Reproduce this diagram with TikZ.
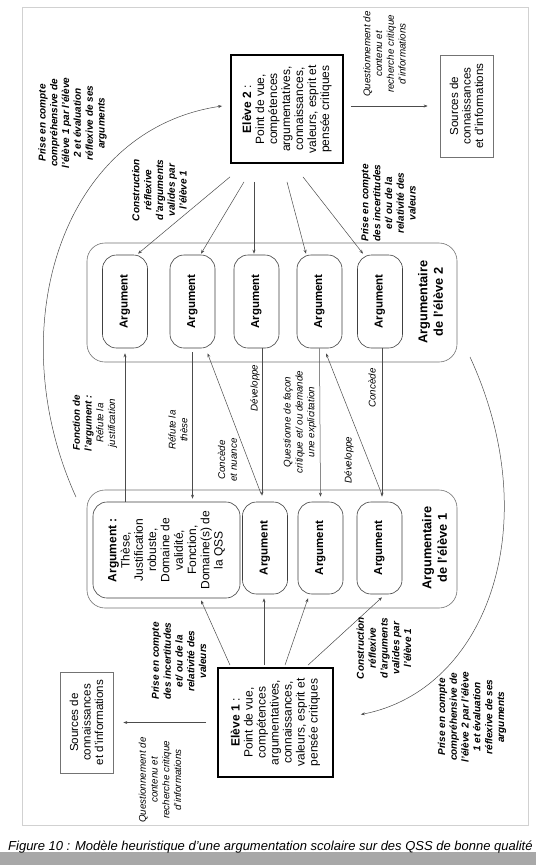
\documentclass[tikz,border=0pt]{standalone}
\usepackage{fontspec}
\setmainfont{Liberation Sans}
\usetikzlibrary{arrows.meta, calc}

\begin{document}
\begin{tikzpicture}[x=1pt, y=-1pt,
    eleve/.style={draw, line width=1.8pt, rotate=90, align=center, inner sep=2pt,
                  font=\fontsize{12}{13}\selectfont},
    argbox/.style={draw=black!75, line width=0.6pt, rounded corners=14pt, rotate=90,
                   minimum width=93pt, minimum height=45pt, inner sep=0pt,
                   font=\fontsize{11.5}{13}\selectfont\bfseries},
    bigbox/.style={argbox, align=center, font=\fontsize{12}{13.3}\selectfont},
    groupbox/.style={draw=black!55, line width=0.6pt, rounded corners=18pt},
    source/.style={draw=black!55, line width=0.7pt, rotate=90, align=center, inner sep=0pt,
                   font=\fontsize{11.6}{12.5}\selectfont},
    lbl/.style={rotate=90, align=center, inner sep=0pt,
                font=\fontsize{9.8}{11.8}\selectfont\itshape},
    blbl/.style={lbl, font=\fontsize{10}{11.8}\selectfont\bfseries\itshape},
    grouplbl/.style={rotate=90, align=center, inner sep=0pt,
                     font=\fontsize{12.8}{15.5}\selectfont\bfseries},
    arr/.style={-{Stealth[length=4pt, width=3pt]}, draw=black!70, line width=0.5pt}
  ]
    \useasboundingbox (0,0) rectangle (536,865);
    \clip (0,0) rectangle (536,865);
    \fill[white] (0,0) rectangle (536,865);
    \draw[black!18, line width=1pt] (22,7) rectangle (528,825);
    \fill[black!34] (0,852) rectangle (536,865);
    \node[anchor=base west, inner sep=0pt, font=\fontsize{13}{15}\selectfont\itshape] (caption)
      at (8,850) {Figure 10 : Modèle heuristique d'une argumentation scolaire sur des QSS de bonne qualité};

    \node[groupbox, minimum width=370pt, minimum height=119pt] (g2) at (272,302.5) {};
    \node[groupbox, minimum width=370pt, minimum height=118pt] (g1) at (272,549) {};

    \node[eleve, minimum width=108pt, minimum height=112pt] (e2) at (287,109)
      {\textbf{Elève 2} :\\Point de vue,\\compétences\\argumentatives,\\connaissances,\\valeurs, esprit et\\pensée critiques};
    \node[eleve, minimum width=109pt, minimum height=115pt] (e1) at (275.5,722.5)
      {\textbf{Elève 1} :\\Point de vue,\\compétences\\argumentatives,\\connaissances,\\valeurs, esprit et\\pensée critiques};
    \node[source, minimum width=102pt, minimum height=53pt] (s2) at (466.5,106)
      {Sources de\\connaissances\\et d'informations};
    \node[source, minimum width=101pt, minimum height=53pt] (s1) at (86.5,722.5)
      {Sources de\\connaissances\\et d'informations};

    \node[argbox] (e2arg1) at (125,301.5) {Argument};
    \node[argbox] (e2arg2) at (192.5,301.5) {Argument};
    \node[argbox] (e2arg3) at (256.5,301.5) {Argument};
    \node[argbox] (e2arg4) at (319.5,301.5) {Argument};
    \node[argbox] (e2arg5) at (380,301.5) {Argument};
    \node[grouplbl] (g2lbl) at (430.5,302) {Argumentaire\\de l'élève 2};

    \node[bigbox, minimum width=96pt, minimum height=147pt] (e1arg1) at (166.5,550)
      {\textbf{Argument :}\\Thèse,\\Justification\\robuste,\\Domaine de\\validité,\\Fonction,\\Domaine(s) de\\la QSS};
    \node[argbox, minimum width=92pt] (e1arg2) at (265,548) {Argument};
    \node[argbox, minimum width=92pt] (e1arg3) at (320.5,548) {Argument};
    \node[argbox, minimum width=92pt] (e1arg4) at (379.5,548) {Argument};
    \node[grouplbl] (g1lbl) at (434.5,548) {Argumentaire\\de l'élève 1};

    \draw[arr] ($(e2.west)+(-57,13)$) -- ($(e2arg1.east)+(13,-1)$);
    \draw[arr] ($(e2.west)+(-43,18)$) -- ($(e2arg2.east)+(8.5,-1)$);
    \draw[arr] ($(e2.west)+(-33,18)$) -- ($(e2arg3.east)+(-2.5,-1)$);
    \draw[arr] ($(e2.west)+(0,18)$) -- ($(e2arg4.east)+(-13.5,-1)$);
    \draw[arr] ($(e2.west)+(16,13)$) -- ($(e2arg5.east)+(-17,-1)$);

    \draw[arr] ($(e1.east)+(-45.5,-2)$) -- ($(e1arg1.west)+(34.5,2)$);
    \draw[arr] ($(e1.east)+(-11.5,-2)$) -- ($(e1arg2.west)+(-1,4)$);
    \draw[arr] ($(e1.east)+(9.5,-2)$) -- ($(e1arg3.west)+(-12.5,4)$);
    \draw[arr] ($(e1.east)+(32.5,-2)$) -- ($(e1arg4.west)+(2.5,3)$);

    \draw[arr, shorten <=7pt, shorten >=12pt] (e2.south |- s2.north) -- (s2.north);
    \draw[arr, shorten <=11pt, shorten >=10pt] (e1.north) -- (s1.south);

    \draw[arr, shorten >=5pt] (e1arg1.east -| e2arg1.west) -- (e2arg1.west);
    \draw[arr, shorten <=4pt, shorten >=3pt] (e2arg2.west) -- (e2arg2.west |- e1arg1.east);
    \draw[arr] ($(e1arg2.east)+(-4,-8)$) -- ($(e2arg2.west)+(15,5)$);
    \draw[arr, shorten >=6pt] ($(e2arg3.west)+(5.5,0)$) -- ($(e1arg2.east)+(-3,0)$);
    \draw[arr, shorten >=5pt] (e2arg4.west) -- (e1arg3.east);
    \draw[arr] ($(e1arg4.east)+(2.5,-7)$) -- ($(e2arg4.west)+(6.5,5)$);
    \draw[arr, shorten >=5pt] ($(e2arg5.west)+(2,0)$) -- ($(e1arg4.east)+(2.5,0)$);

    \coordinate (from1) at (76,497);
    \coordinate (from2) at (470,357);
    \draw[arr] (from1) .. controls (0,330) and (60,130) .. ($(e2.north)+(-8,-3)$);
    \draw[arr] (from2) .. controls (547,524) and (487,690) .. ($(e1.south)+(27,-8)$);

    \node[blbl] (l1) at (72.5,123) {Prise en compte\\compréhensive de\\l'élève 1 par l'élève\\2 et évaluation\\réflexive de ses\\arguments};
    \node[blbl] (l2) at (159.5,190) {Construction\\réflexive\\d'arguments\\valides par\\l'élève 1};
    \node[blbl] (l3) at (388.5,203) {Prise en compte\\des incertitudes\\et/ ou de la\\relativité des\\valeurs};
    \node[lbl] (l4) at (384.5,54) {Questionnement de\\contenu et\\recherche critique\\d'informations};
    \node[lbl] (l5) at (95,423) {\textbf{Fonction de}\\\textbf{l'argument :}\\Réfute la\\justification};
    \node[lbl] (l6) at (178,430) {Réfute la\\thèse};
    \node[lbl] (l7) at (227.5,460) {Concède\\et nuance};
    \node[lbl] (l8) at (255,388) {Développe};
    \node[lbl] (l9) at (300,422) {Questionne de façon\\critique et/ ou demande\\une explicitation};
    \node[lbl] (l10) at (349,460) {Développe};
    \node[lbl] (l11) at (372,388) {Concède};
    \node[blbl] (l12) at (179,661) {Prise en compte\\des incertitudes\\et/ ou de la\\relativité des\\valeurs};
    \node[lbl] (l13) at (160,780) {Questionnement de\\contenu et\\recherche critique\\d'informations};
    \node[blbl] (l14) at (384,648) {Construction\\réflexive\\d'arguments\\valides par\\l'élève 1};
    \node[blbl] (l15) at (472,717) {Prise en compte\\compréhensive de\\l'élève 2 par l'élève\\1 et évaluation\\réflexive de ses\\arguments};
  \end{tikzpicture}
\end{document}
